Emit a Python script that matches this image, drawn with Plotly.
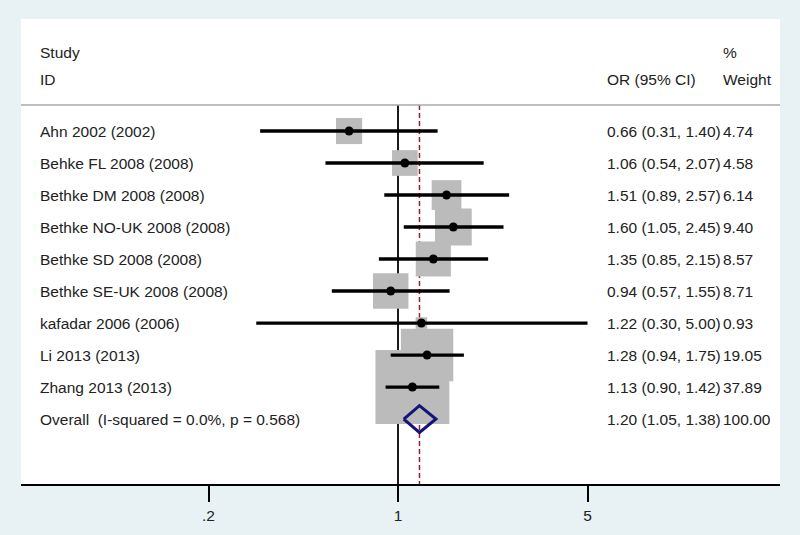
import math
import plotly.graph_objects as go

studies = ["Ahn 2002 (2002)", "Behke FL 2008 (2008)", "Bethke DM 2008 (2008)",
           "Bethke NO-UK 2008 (2008)", "Bethke SD 2008 (2008)", "Bethke SE-UK 2008 (2008)",
           "kafadar 2006 (2006)", "Li 2013 (2013)", "Zhang 2013 (2013)"]
or_vals = [0.66, 1.06, 1.51, 1.60, 1.35, 0.94, 1.22, 1.28, 1.13]
ci_low = [0.31, 0.54, 0.89, 1.05, 0.85, 0.57, 0.30, 0.94, 0.90]
ci_high = [1.40, 2.07, 2.57, 2.45, 2.15, 1.55, 5.00, 1.75, 1.42]
weights = [4.74, 4.58, 6.14, 9.40, 8.57, 8.71, 0.93, 19.05, 37.89]

overall_label = "Overall  (I-squared = 0.0%, p = 0.568)"
overall_or = 1.20
overall_low = 1.05
overall_high = 1.38
overall_weight = 100.00

tick_vals = [0.2, 1, 5]
tick_text = [".2", "1", "5"]

FONT = "Liberation Sans, Arial, sans-serif"
TXT = "#222222"
FS = 15.5
n = len(studies)
rows = list(range(n))
overall_row = n

y_top = -3.5
y_bot = 11.03
header_line_y = -0.81

fig = go.Figure()

# reference lines (under the squares)
fig.add_trace(go.Scatter(x=[overall_or, overall_or], y=[header_line_y, y_bot], mode="lines",
                         line=dict(color="#9a2030", width=1.5, dash="5px,3px"),
                         hoverinfo="skip", showlegend=False))
fig.add_trace(go.Scatter(x=[1, 1], y=[header_line_y, y_bot], mode="lines",
                         line=dict(color="black", width=1.8),
                         hoverinfo="skip", showlegend=False))

# weight squares
fig.add_trace(go.Scatter(x=or_vals, y=rows, mode="markers",
                         marker=dict(symbol="square", color="#bbbbbb", opacity=1,
                                     size=[12 * math.sqrt(w) for w in weights],
                                     line=dict(width=0)),
                         hoverinfo="skip", showlegend=False))

# CI lines
cx, cy = [], []
for lo, hi, r in zip(ci_low, ci_high, rows):
    cx += [lo, hi, None]
    cy += [r, r, None]
fig.add_trace(go.Scatter(x=cx, y=cy, mode="lines", line=dict(color="black", width=3.3),
                         hoverinfo="skip", showlegend=False))

# point estimates
fig.add_trace(go.Scatter(x=or_vals, y=rows, mode="markers",
                         marker=dict(symbol="circle", color="black", size=9, opacity=1),
                         hoverinfo="skip", showlegend=False))

# overall diamond
h = 0.42
fig.add_trace(go.Scatter(x=[overall_low, overall_or, overall_high, overall_or, overall_low],
                         y=[overall_row, overall_row - h, overall_row, overall_row + h, overall_row],
                         mode="lines", line=dict(color="#141478", width=3),
                         hoverinfo="skip", showlegend=False))

# header separator line
fig.add_shape(type="line", xref="paper", x0=0, x1=1, yref="y", y0=header_line_y, y1=header_line_y,
              line=dict(color="#a8a8a8", width=1.5))

ann = []
def txt(xp, y, s):
    ann.append(dict(x=xp, y=y, xref="paper", yref="y", text=s, showarrow=False,
                    xanchor="left", yanchor="middle",
                    font=dict(family=FONT, size=FS, color=TXT)))

x_study = (38 - 21) / 759
x_ci = (605 - 21) / 759
x_w = (721 - 21) / 759

txt(x_study, -2.44, "Study")
txt(x_study, -1.625, "ID")
txt(x_ci, -1.625, "OR (95% CI)")
txt(x_w, -2.44, "%")
txt(x_w, -1.625, "Weight")

for s, o, lo, hi, w, r in zip(studies, or_vals, ci_low, ci_high, weights, rows):
    txt(x_study, r, s)
    txt(x_ci, r, f"{o:.2f} ({lo:.2f}, {hi:.2f})")
    txt(x_w, r, f"{w:.2f}")

txt(x_study, overall_row, overall_label)
txt(x_ci, overall_row, f"{overall_or:.2f} ({overall_low:.2f}, {overall_high:.2f})")
txt(x_w, overall_row, f"{overall_weight:.2f}")

fig.update_layout(
    width=800, height=535,
    margin=dict(l=21, r=20, t=19, b=51),
    paper_bgcolor="#e8f1f4",
    plot_bgcolor="white",
    annotations=ann,
    showlegend=False,
    xaxis=dict(type="log", range=[-1.3906, 1.409], showgrid=False, zeroline=False,
               showline=True, linecolor="black", linewidth=2,
               tickmode="array", tickvals=tick_vals, ticktext=tick_text,
               ticks="outside", ticklen=16, tickwidth=1.8, tickcolor="black",
               tickfont=dict(family=FONT, size=FS, color=TXT)),
    yaxis=dict(range=[y_bot, y_top], showgrid=False, zeroline=False, showline=False,
               showticklabels=False, ticks=""),
)

fig.write_html("out.html", config={"displayModeBar": False},
               post_script="document.body.style.margin='0';document.body.style.background='#e8f1f4';")
